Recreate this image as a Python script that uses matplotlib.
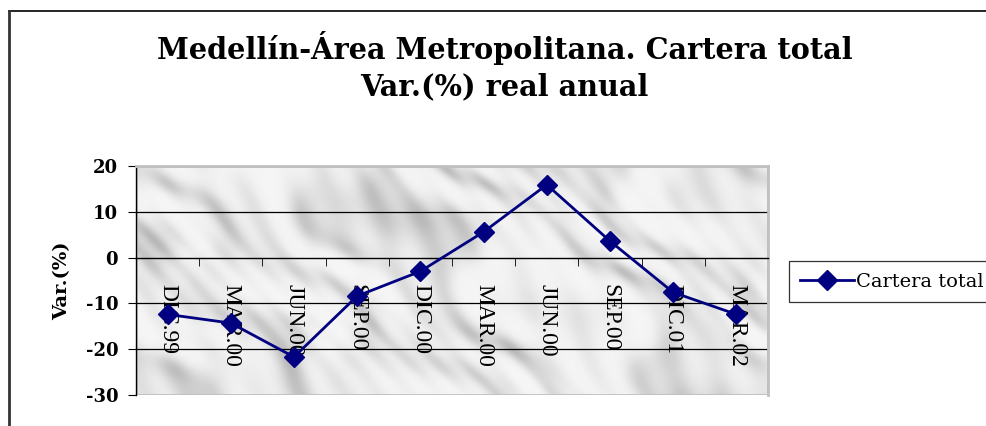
import numpy as np
import matplotlib.pyplot as plt
from matplotlib.lines import Line2D
from matplotlib.patches import Rectangle

periodos = ['DIC.99', 'MAR.00', 'JUN.00', 'SEP.00', 'DIC.00',
            'MAR.00', 'JUN.00', 'SEP.00', 'DIC.01', 'MAR.02']
cartera_total = [-12.4, -14.3, -21.7, -8.4, -3.0, 5.6, 15.9, 3.6, -7.6, -12.4]

navy = '#000080'

fig = plt.figure(figsize=(9.86, 4.26), dpi=100)
ax = fig.add_axes([0.1379, 0.0728, 0.641, 0.5376])

x = np.arange(len(periodos))
ax.set_xlim(-0.5, len(periodos) - 0.5)
ax.set_ylim(-30, 20)

# marble-like fill behind the plot area
gx, gy = np.meshgrid(np.linspace(0, 63, 630), np.linspace(0, 23, 230))
w1 = 2.2 * np.sin(0.21 * gx + 0.5) * np.cos(0.37 * gy + 1.1)
w2 = 1.6 * np.sin(0.13 * gx - 0.29 * gy + 2.0)
veta = (np.sin(0.45 * gx - 0.55 * gy + w1 + w2)
        + 0.7 * np.sin(0.83 * gx - 0.62 * gy + 1.5 * w1 + 0.7)
        + 0.5 * np.sin(1.9 * gx - 1.3 * gy + 2.0 * w2 + 1.3)
        + 0.35 * np.sin(0.09 * gx + 0.41 * gy + 4.0))
veta = (veta - veta.min()) / (veta.max() - veta.min())
tono = 0.96 - 0.24 * veta ** 2.5
ax.imshow(tono, cmap='gray', vmin=0, vmax=1, aspect='auto',
          extent=(-0.5, len(periodos) - 0.5, -30, 20), zorder=0,
          interpolation='bilinear')

for v in [10, -10, -20]:
    ax.axhline(v, color='black', lw=0.9, zorder=1)

ax.plot(x, cartera_total, color=navy, lw=2, marker='D', markersize=10.5,
        zorder=3)

# y axis on the left, category axis crossing at zero
for s in ['top', 'right']:
    ax.spines[s].set_color('#c0c0c0')
    ax.spines[s].set_linewidth(2)
ax.spines['left'].set_color('black')
ax.spines['left'].set_linewidth(1)
ax.spines['bottom'].set_position(('data', 0))
ax.spines['bottom'].set_linewidth(1)
border = Rectangle((0, 0), 1, 1, transform=ax.transAxes, fill=False,
                   edgecolor='#c0c0c0', lw=2, zorder=0.5)
ax.add_patch(border)

ax.set_xticks(np.arange(len(periodos) + 1) - 0.5, minor=True)
ax.set_xticks(x)
ax.set_xticklabels(periodos, rotation=270, fontsize=17,
                   family='Liberation Serif', va='top')
ax.tick_params(axis='x', which='major', length=0, pad=19)
ax.tick_params(axis='x', which='minor', length=5.5, direction='out')

ax.set_yticks(np.arange(-30, 21, 10))
ax.set_yticklabels([str(v) for v in range(-30, 21, 10)],
                   family='DejaVu Serif', fontweight='bold', fontsize=13)
ax.tick_params(axis='y', length=5.8, pad=7)

ax.set_ylabel('Var.(%)', family='DejaVu Serif', fontweight='bold',
              fontsize=14)
ax.yaxis.set_label_coords(-0.1026, 0.5)

fig.text(0.5117, 0.845, 'Medellín-Área Metropolitana. Cartera total\nVar.(%) real anual',
         ha='center', va='center', family='DejaVu Serif', fontweight='bold',
         fontsize=20.7, linespacing=1.35)

# outer chart frame
fig.add_artist(Line2D([0.009, 1.0], [0.974, 0.974], color='black', lw=1.2,
                      transform=fig.transFigure))
fig.add_artist(Line2D([0.009, 0.009], [0.0, 0.974], color='#333333', lw=2,
                      transform=fig.transFigure))

handle = Line2D([], [], color=navy, lw=2, marker='D', markersize=10.5)
leg = fig.legend([handle], ['Cartera total'], loc='upper left',
                 bbox_to_anchor=(0.800, 0.387), frameon=True, fancybox=False,
                 edgecolor='black', prop={'family': 'DejaVu Serif', 'size': 14},
                 handlelength=2.75, handletextpad=0.12, borderpad=0.6,
                 borderaxespad=0)
leg.get_frame().set_linewidth(0.9)

fig.savefig('out.png', dpi=100)
